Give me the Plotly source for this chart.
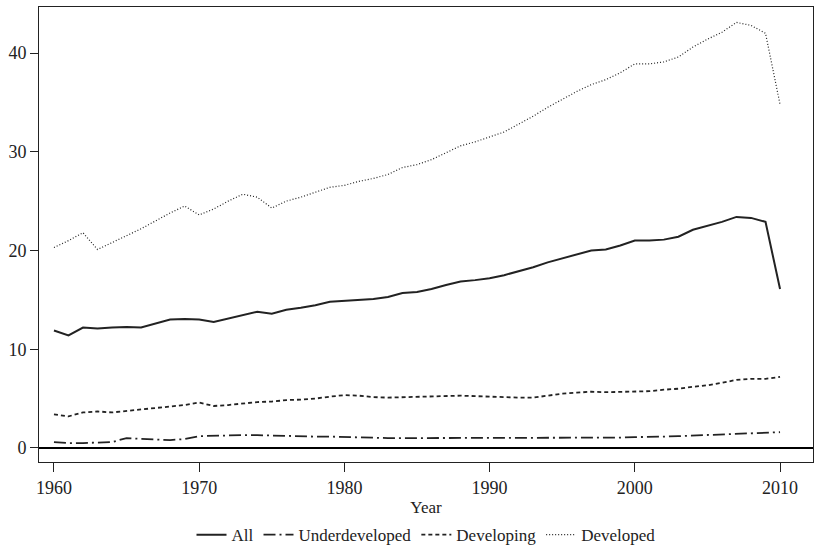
import plotly.graph_objects as go

years = list(range(1960, 2011))
all_vals = [11.9, 11.4, 12.2, 12.1, 12.2, 12.25, 12.2, 12.6, 13.0, 13.05, 13.0, 12.75, 13.1, 13.5, 13.8, 13.6, 14.0, 14.2, 14.45, 14.8, 14.9, 15.05, 15.1, 15.3, 15.7, 15.8, 16.1, 16.5, 16.85, 17.0, 17.2, 17.5, 17.9, 18.3, 18.8, 19.2, 19.6, 20.0, 20.1, 20.5, 21.0, 21.0, 21.1, 21.4, 22.1, 22.5, 22.9, 23.4, 23.3, 22.9, 16.1]
underdeveloped = [0.6, 0.5, 0.5, 0.55, 0.6, 1.0, 0.9, 0.85, 0.8, 0.9, 1.2, 1.25, 1.3, 1.3, 1.3, 1.25, 1.25, 1.2, 1.15, 1.15, 1.1, 1.05, 1.0, 1.0, 1.0, 1.0, 1.0, 1.0, 1.0, 1.0, 1.0, 1.0, 1.0, 1.0, 1.0, 1.0, 1.0, 1.05, 1.05, 1.05, 1.1, 1.1, 1.15, 1.2, 1.25, 1.3, 1.35, 1.4, 1.45, 1.5, 1.6]
developing = [3.4, 3.2, 3.6, 3.7, 3.6, 3.75, 3.9, 4.0, 4.15, 4.35, 4.6, 4.25, 4.35, 4.5, 4.65, 4.7, 4.85, 4.9, 5.0, 5.2, 5.35, 5.3, 5.15, 5.1, 5.15, 5.15, 5.2, 5.25, 5.3, 5.25, 5.2, 5.1, 5.1, 5.1, 5.3, 5.5, 5.6, 5.7, 5.65, 5.7, 5.7, 5.75, 5.9, 6.0, 6.2, 6.35, 6.6, 6.9, 7.0, 7.0, 7.2]
developed = [20.3, 21.0, 21.8, 20.1, 20.8, 21.5, 22.2, 23.0, 23.8, 24.5, 23.6, 24.2, 25.0, 25.7, 25.4, 24.3, 25.0, 25.4, 25.9, 26.4, 26.6, 27.0, 27.3, 27.7, 28.4, 28.7, 29.2, 29.9, 30.6, 31.0, 31.5, 32.0, 32.8, 33.6, 34.5, 35.3, 36.1, 36.8, 37.3, 38.0, 38.9, 38.9, 39.1, 39.6, 40.6, 41.4, 42.1, 43.1, 42.8, 42.0, 34.8]

FONT = "Liberation Serif"
fig = go.Figure()
series = [("All", all_vals, "solid", 2), ("Underdeveloped", underdeveloped, "12px,4px,2px,4px", 1.8),
          ("Developing", developing, "4px,3px", 1.8), ("Developed", developed, "1px,2px", 1.2)]
for name, vals, dash, w in series:
    fig.add_trace(go.Scatter(x=years, y=vals, name=name, mode="lines",
                             line=dict(color="#222222", dash=dash, width=w)))
fig.add_hline(y=0, line=dict(color="black", width=2))

fig.update_layout(
    width=814, height=546, plot_bgcolor="white", paper_bgcolor="white",
    font=dict(family=FONT, size=17, color="#222"),
    margin=dict(l=39, r=1, t=7, b=84, autoexpand=False),
    showlegend=True,
    legend=dict(orientation="h", x=0.5, xanchor="center", yref="container", y=0.02, yanchor="middle",
                font=dict(family=FONT, size=17), tracegroupgap=0),
    xaxis=dict(range=[1958.97, 2012.27], tickvals=[1960, 1970, 1980, 1990, 2000, 2010],
               showgrid=False, zeroline=False, showline=True, mirror=True, linecolor="#222",
               ticks="outside", ticklen=9, tickcolor="#222", tickfont=dict(family=FONT, size=18),
               automargin=False,
               title=dict(text="Year", standoff=12, font=dict(family=FONT, size=17))),
    yaxis=dict(range=[-1.42, 44.66], tickvals=[0, 10, 20, 30, 40], showgrid=False, automargin=False,
               zeroline=False, showline=True, mirror=True, linecolor="#222", tickcolor="#222",
               ticks="outside", ticklen=8, tickfont=dict(family=FONT, size=18)),
)
fig.write_html("out.html", config={"displayModeBar": False},
               post_script="document.body.style.margin='0';document.body.style.overflow='hidden';")
